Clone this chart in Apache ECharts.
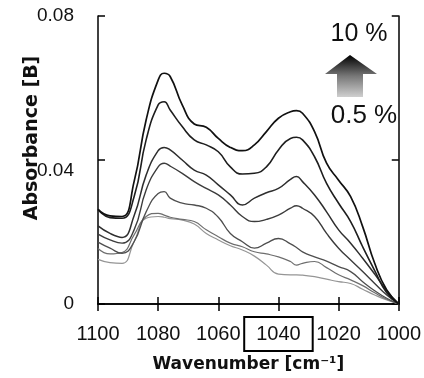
<!DOCTYPE html>
<html><head><meta charset="utf-8">
<script src="https://cdn.jsdelivr.net/npm/echarts@6/dist/echarts.min.js"></script>
<style>html,body{margin:0;padding:0;background:#fff}#c{width:424px;height:378px}</style>
</head><body><div id="c"></div>
<script>
// Wavenumber (cm-1) sample positions
const wavenumbers = [1100,1096,1092,1088,1084,1080,1078,1076,1072,1068,1064,1060,1056,1052,1048,1044,1040,1036,1034,1032,1028,1024,1020,1016,1012,1008,1004,1000];
// Absorbance curves, from 10 % (top) down to 0.5 % (bottom)
const curve1 = [0.0263,0.0245,0.0243,0.0340,0.0511,0.0622,0.0641,0.0632,0.0553,0.0500,0.0491,0.0460,0.0435,0.0426,0.0442,0.0479,0.0516,0.0534,0.0537,0.0530,0.0479,0.0391,0.0344,0.0298,0.0215,0.0113,0.0039,0];
const curve2 = [0.0263,0.0240,0.0238,0.0298,0.0456,0.0553,0.0562,0.0539,0.0493,0.0456,0.0442,0.0423,0.0381,0.0361,0.0363,0.0381,0.0428,0.0460,0.0463,0.0456,0.0409,0.0335,0.0280,0.0229,0.0159,0.0093,0.0031,0];
const curve3 = [0.0217,0.0196,0.0185,0.0245,0.0358,0.0426,0.0435,0.0428,0.0400,0.0372,0.0358,0.0331,0.0303,0.0275,0.0294,0.0309,0.0321,0.0346,0.0354,0.0340,0.0303,0.0256,0.0206,0.0169,0.0127,0.0083,0.0037,0];
const curve4 = [0.0194,0.0178,0.0169,0.0206,0.0317,0.0381,0.0391,0.0383,0.0363,0.0340,0.0321,0.0303,0.0275,0.0243,0.0229,0.0235,0.0247,0.0266,0.0273,0.0266,0.0243,0.0196,0.0155,0.0122,0.0090,0.0057,0.0025,0];
const curve5 = [0.0172,0.0155,0.0141,0.0173,0.0256,0.0307,0.0312,0.0294,0.0280,0.0275,0.0266,0.0241,0.0196,0.0173,0.0155,0.0169,0.0182,0.0167,0.0157,0.0145,0.0131,0.0119,0.0104,0.0090,0.0062,0.0037,0.0016,0];
const curve6 = [0.0154,0.0139,0.0143,0.0192,0.0243,0.0252,0.0247,0.0241,0.0235,0.0229,0.0206,0.0187,0.0169,0.0159,0.0145,0.0139,0.0131,0.0118,0.0108,0.0113,0.0118,0.0101,0.0081,0.0067,0.0051,0.0031,0.0013,0];
const curve7 = [0.0124,0.0115,0.0113,0.0173,0.0238,0.0243,0.0241,0.0237,0.0233,0.0222,0.0196,0.0178,0.0162,0.0150,0.0133,0.0108,0.0083,0.0081,0.0081,0.0080,0.0076,0.0069,0.0062,0.0057,0.0041,0.0025,0.0011,0];
const curves = [curve1, curve2, curve3, curve4, curve5, curve6, curve7];
const curveNames = ['10 %', 'level 6', 'level 5', 'level 4', 'level 3', 'level 2', '0.5 %'];
const xTicks = [1100, 1080, 1060, 1040, 1020, 1000];
const yTicks = [0, 0.04, 0.08];
const highlightedTick = 1040;
const topLabel = '10 %';
const bottomLabel = '0.5 %';

const colors = ['#111111', '#1e1e1e', '#2e2e2e', '#3c3c3c', '#4e4e4e', '#6e6e6e', '#959595'];
const widths = [1.7, 1.6, 1.5, 1.4, 1.3, 1.2, 1.2];

const chart = echarts.init(document.getElementById('c'), null, {renderer: 'canvas'});
const frame = {show: true, lineStyle: {color: '#000', width: 1.5}};
const ticks = {show: true, inside: true, length: 7, lineStyle: {color: '#000', width: 1.5}};
const labelFont = 'Liberation Sans';

chart.setOption({
  backgroundColor: '#fff',
  animation: false,
  grid: {left: 98, right: 23, top: 16, bottom: 74, containLabel: false},
  xAxis: [{
    type: 'value', position: 'bottom', inverse: true,
    min: 1000, max: 1100, interval: 20,
    axisLine: frame, axisTick: ticks, splitLine: {show: false},
    axisLabel: {
      margin: 30, verticalAlign: 'middle', fontSize: 20, color: '#111', fontFamily: labelFont,
      showMinLabel: true, showMaxLabel: true,
      formatter: v => (xTicks.includes(v) ? (v === highlightedTick ? '{box|' + v + '}' : String(v)) : ''),
      rich: {box: {fontSize: 20, fontFamily: labelFont, color: '#111', borderColor: '#000', borderWidth: 2, padding: [7, 12, 7, 12]}}
    },
    name: 'Wavenumber [cm\u207B\u00B9]', nameLocation: 'middle', nameGap: 52, nameMoveOverlap: false,
    nameTextStyle: {fontFamily: 'DejaVu Sans', fontWeight: 'bold', fontSize: 17, color: '#111'}
  }, {
    type: 'value', position: 'top', inverse: true,
    min: 1000, max: 1100, interval: 20,
    axisLine: frame, axisTick: ticks, axisLabel: {show: false}, splitLine: {show: false}
  }],
  yAxis: [{
    type: 'value', position: 'left', min: 0, max: 0.08, interval: 0.04,
    axisLine: frame, axisTick: ticks, splitLine: {show: false},
    axisLabel: {
      margin: 24, fontSize: 19, color: '#111', fontFamily: labelFont,
      showMinLabel: true, showMaxLabel: true,
      formatter: v => {
        const t = yTicks.find(y => Math.abs(y - v) < 1e-9);
        if (t === undefined) return '';
        if (t === 0) return '0';
        if (Math.abs(t - 0.04) < 1e-9) return '{low|' + t.toFixed(2) + '}';
        return t.toFixed(2);
      },
      rich: {low: {fontSize: 19, fontFamily: labelFont, color: '#111', padding: [22, 0, 0, 0]}}
    },
    name: 'Absorbance [B]', nameLocation: 'middle', nameGap: 56, nameMoveOverlap: false,
    nameTextStyle: {fontFamily: 'DejaVu Sans', fontWeight: 'bold', fontSize: 19, color: '#111', padding: [0, 0, 0, 44]}
  }, {
    type: 'value', position: 'right', min: 0, max: 0.08, interval: 0.04,
    axisLine: frame, axisTick: ticks, axisLabel: {show: false}, splitLine: {show: false}
  }],
  series: curves.map((c, i) => ({
    name: curveNames[i], type: 'line', xAxisIndex: 0, yAxisIndex: 0,
    data: wavenumbers.map((w, k) => [w, c[k]]),
    showSymbol: false, smooth: 0.5,
    lineStyle: {color: colors[i], width: widths[i]},
    z: 10 - i
  })),
  graphic: [
    {type: 'text', style: {text: topLabel, x: 359, y: 34, align: 'center', verticalAlign: 'middle', font: '25px "Liberation Sans"', fill: '#111'}},
    {type: 'text', style: {text: bottomLabel, x: 364, y: 116, align: 'center', verticalAlign: 'middle', font: '26px "Liberation Sans"', fill: '#111'}},
    {type: 'polygon', shape: {points: [[350, 55], [377, 74], [363, 74], [363, 97], [337, 97], [337, 74], [325, 74]]},
     style: {fill: new echarts.graphic.LinearGradient(0, 0, 0, 1, [{offset: 0, color: '#000'}, {offset: 0.5, color: '#777'}, {offset: 1, color: '#cfcfcf'}])}}
  ]
});
</script></body></html>
